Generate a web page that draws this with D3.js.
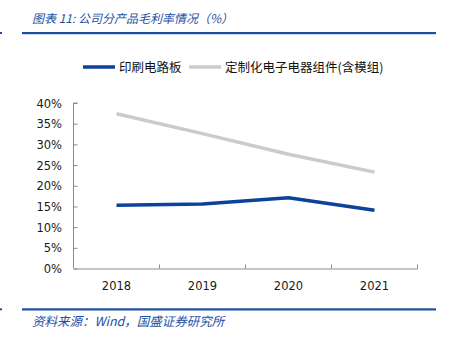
<!DOCTYPE html>
<html>
<head>
<meta charset="utf-8">
<script src="https://cdn.jsdelivr.net/npm/d3@7"></script>
<style>
  body { margin: 0; background: #fff; }
  svg { display: block; }
</style>
</head>
<body>
<svg id="chart" width="451" height="344"></svg>
<script>
const TITLE = '图表 11: 公司分产品毛利率情况（%）';
const SOURCE = '资料来源：Wind，国盛证券研究所';
const years = ['2018', '2019', '2020', '2021'];
const seriesNames = ['印刷电路板', '定制化电子电器组件(含模组)'];
const pcb = [15.3, 15.6, 17.1, 14.1];
const custom = [37.4, 32.6, 27.6, 23.3];
const yTicks = [0, 5, 10, 15, 20, 25, 30, 35, 40];
const colors = ['#0b439b', '#cbcbcb'];

const BLUE = '#1c4f9f';
const CJK = '"Noto Sans CJK SC", sans-serif';
const LATIN = '"DejaVu Sans", sans-serif';

const svg = d3.select('#chart');
const plot = { left: 73.5, right: 417.5, top: 103, bottom: 268.5 };

const x = d3.scaleBand().domain(years).range([plot.left, plot.right]);
const y = d3.scaleLinear().domain([0, 40]).range([plot.bottom, plot.top]);

// header and footer rules
svg.append('rect').attr('x', 22).attr('y', 32).attr('width', 414).attr('height', 2.2).attr('fill', BLUE);
svg.append('rect').attr('x', 22).attr('y', 308.3).attr('width', 414).attr('height', 2.2).attr('fill', BLUE);
svg.append('rect').attr('x', 0).attr('y', 32).attr('width', 2).attr('height', 2).attr('fill', BLUE);
svg.append('rect').attr('x', 0).attr('y', 308.3).attr('width', 2).attr('height', 2).attr('fill', BLUE);

svg.append('text')
  .attr('x', 32).attr('y', 23)
  .attr('font-family', CJK).attr('font-size', 12).attr('font-style', 'italic')
  .attr('fill', BLUE)
  .text(TITLE);

svg.append('text')
  .attr('x', 32).attr('y', 326)
  .attr('font-family', CJK).attr('font-size', 12.5).attr('font-style', 'italic')
  .attr('fill', BLUE)
  .text(SOURCE);

// legend
const legend = [
  { name: seriesNames[0], color: colors[0], x0: 83, tx: 119 },
  { name: seriesNames[1], color: colors[1], x0: 189, tx: 225 }
];
legend.forEach(l => {
  svg.append('line')
    .attr('x1', l.x0).attr('x2', l.x0 + 32).attr('y1', 67).attr('y2', 67)
    .attr('stroke', l.color).attr('stroke-width', 3.5);
  svg.append('text')
    .attr('x', l.tx).attr('y', 71.5)
    .attr('font-family', CJK).attr('font-size', 12.5).attr('fill', '#111')
    .text(l.name);
});

// y axis
const yAxis = svg.append('g')
  .attr('transform', `translate(${plot.left},0)`)
  .call(d3.axisRight(y).tickValues(yTicks).tickSize(4).tickFormat(''));
yAxis.selectAll('line, path').attr('stroke', '#8c8c8c');
yAxis.select('.domain').attr('d', `M4,${plot.top}H0V${plot.bottom}`);

svg.append('g').selectAll('text')
  .data(yTicks)
  .join('text')
  .attr('x', 62).attr('y', d => y(d) + 4.5)
  .attr('text-anchor', 'end')
  .attr('font-family', LATIN).attr('font-size', 11.5).attr('fill', '#1a1a1a')
  .text(d => d + '%');

// x axis
const xAxis = svg.append('g')
  .attr('transform', `translate(0,${plot.bottom})`)
  .call(d3.axisTop(x).tickValues([]).tickSize(0));
xAxis.select('.domain').attr('stroke', '#8c8c8c');
svg.append('g').selectAll('line')
  .data(years)
  .join('line')
  .attr('x1', d => x(d) + x.bandwidth()).attr('x2', d => x(d) + x.bandwidth())
  .attr('y1', plot.bottom).attr('y2', plot.bottom - 4)
  .attr('stroke', '#8c8c8c');

svg.append('g').selectAll('text')
  .data(years)
  .join('text')
  .attr('x', d => x(d) + x.bandwidth() / 2).attr('y', 290)
  .attr('text-anchor', 'middle')
  .attr('font-family', LATIN).attr('font-size', 11.5).attr('fill', '#1a1a1a')
  .text(d => d);

// lines
const line = d3.line()
  .x((d, i) => x(years[i]) + x.bandwidth() / 2)
  .y(d => y(d));

[custom, pcb].forEach((s, k) => {
  svg.append('path')
    .datum(s)
    .attr('d', line)
    .attr('fill', 'none')
    .attr('stroke', k === 0 ? colors[1] : colors[0])
    .attr('stroke-width', 3.5)
    .attr('stroke-linejoin', 'round');
});
</script>
</body>
</html>
